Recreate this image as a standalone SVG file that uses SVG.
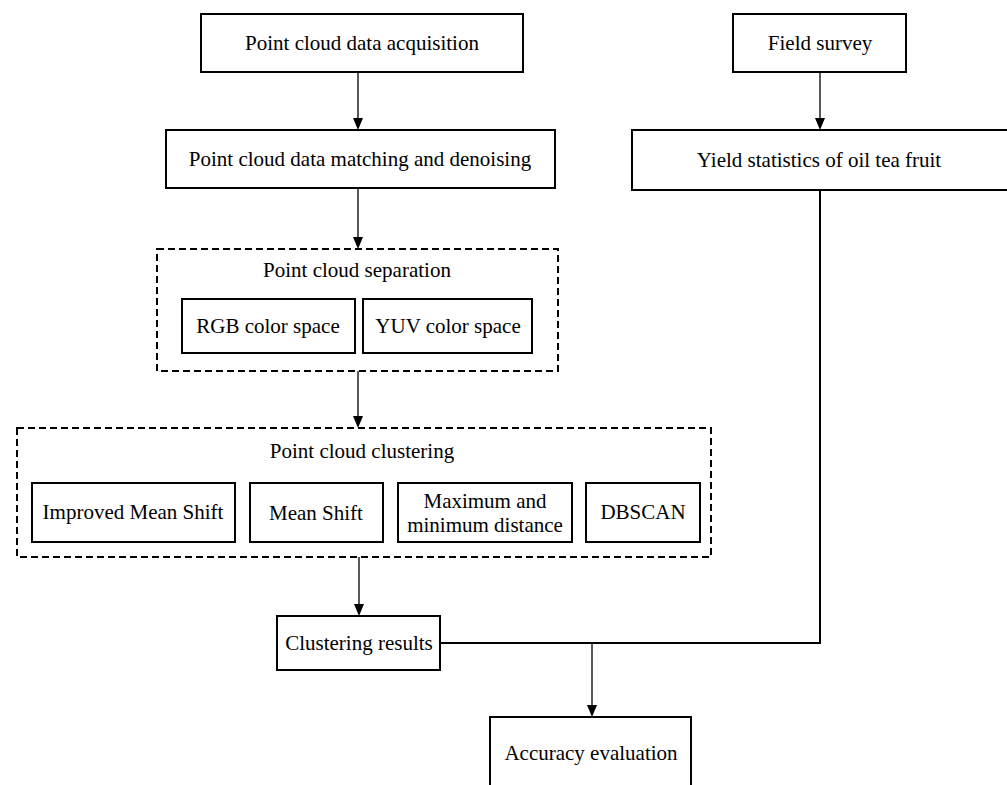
<svg xmlns="http://www.w3.org/2000/svg" width="1007" height="785" viewBox="0 0 1007 785">
  <defs>
    <marker id="arr" viewBox="0 0 10 12" refX="5" refY="12" markerWidth="10" markerHeight="12" markerUnits="userSpaceOnUse" orient="auto-start-reverse">
      <path d="M0,0 L10,0 L5,12 Z" fill="#000"/>
    </marker>
    <style>
      .box { fill: #fff; stroke: #000; stroke-width: 2; }
      .dash { fill: none; stroke: #000; stroke-width: 2; stroke-dasharray: 7 4; }
      .t { font-family: "Liberation Serif", "Times New Roman", serif; font-size: 21px; fill: #000; text-anchor: middle; }
      .arrow { stroke: #000; stroke-width: 1.3; fill: none; }
      .line { stroke: #000; stroke-width: 2; fill: none; }
    </style>
  </defs>
  <rect width="1007" height="785" fill="#fff"/>

  <g id="connectors">
    <line class="arrow" x1="358" y1="72" x2="358" y2="118"/>
    <path d="M353,118 L363,118 L358,130 Z" fill="#000"/>
    <line class="arrow" x1="820" y1="72" x2="820" y2="118"/>
    <path d="M815,118 L825,118 L820,130 Z" fill="#000"/>
    <line class="arrow" x1="358" y1="188" x2="358" y2="237"/>
    <path d="M353,237 L363,237 L358,249 Z" fill="#000"/>
    <line class="arrow" x1="358" y1="371" x2="358" y2="416"/>
    <path d="M353,416 L363,416 L358,428 Z" fill="#000"/>
    <line class="arrow" x1="359" y1="557" x2="359" y2="604"/>
    <path d="M354,604 L364,604 L359,616 Z" fill="#000"/>
    <polyline class="line" points="440,643 820,643 820,190"/>
    <line class="arrow" x1="592" y1="643" x2="592" y2="705"/>
    <path d="M587,705 L597,705 L592,717 Z" fill="#000"/>
  </g>

  <g id="acquisition">
    <rect class="box" x="201" y="14" width="322" height="58"/>
    <text class="t" x="362" y="50">Point cloud data acquisition</text>
  </g>
  <g id="matching">
    <rect class="box" x="166" y="130" width="389" height="58"/>
    <text class="t" x="360" y="166">Point cloud data matching and denoising</text>
  </g>
  <g id="field-survey">
    <rect class="box" x="733" y="14" width="173" height="58"/>
    <text class="t" x="820" y="50">Field survey</text>
  </g>
  <g id="yield">
    <rect class="box" x="632" y="130" width="380" height="60"/>
    <text class="t" x="819" y="167">Yield statistics of oil tea fruit</text>
  </g>

  <g id="separation">
    <rect class="dash" x="157" y="249" width="401" height="122"/>
    <text class="t" x="357" y="277">Point cloud separation</text>
  </g>
  <g id="rgb">
    <rect class="box" x="182" y="299" width="173" height="54"/>
    <text class="t" x="268" y="333">RGB color space</text>
  </g>
  <g id="yuv">
    <rect class="box" x="363" y="299" width="169" height="54"/>
    <text class="t" x="448" y="333">YUV color space</text>
  </g>

  <g id="clustering">
    <rect class="dash" x="17" y="428" width="694" height="129"/>
    <text class="t" x="362" y="458">Point cloud clustering</text>
  </g>
  <g id="improved-mean-shift">
    <rect class="box" x="32" y="483" width="203" height="59"/>
    <text class="t" x="133" y="519">Improved Mean Shift</text>
  </g>
  <g id="mean-shift">
    <rect class="box" x="250" y="483" width="133" height="59"/>
    <text class="t" x="316" y="520">Mean Shift</text>
  </g>
  <g id="max-min-distance">
    <rect class="box" x="398" y="483" width="174" height="59"/>
    <text class="t" x="485" y="508">Maximum and</text>
    <text class="t" x="485" y="532">minimum distance</text>
  </g>
  <g id="dbscan">
    <rect class="box" x="586" y="483" width="114" height="59"/>
    <text class="t" x="643" y="519">DBSCAN</text>
  </g>

  <g id="clustering-results">
    <rect class="box" x="277" y="616" width="163" height="54"/>
    <text class="t" x="359" y="650">Clustering results</text>
  </g>
  <g id="accuracy">
    <rect class="box" x="490" y="717" width="201" height="80"/>
    <text class="t" x="591" y="760">Accuracy evaluation</text>
  </g>
</svg>
